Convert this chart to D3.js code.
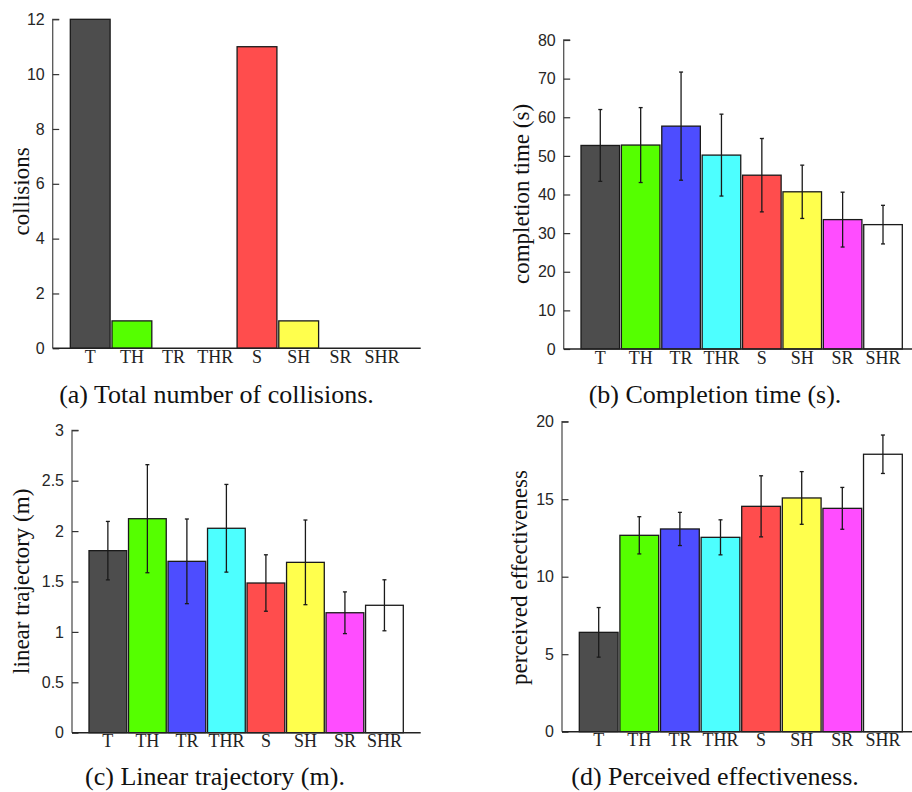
<!DOCTYPE html>
<html>
<head>
<meta charset="utf-8">
<script src="https://cdn.jsdelivr.net/npm/d3@7"></script>
<style>
  html, body { margin: 0; padding: 0; background: #fff; }
  svg { display: block; }
</style>
</head>
<body>
<svg id="fig" width="912" height="792"></svg>
<script>
// Conditions compared in every panel
const conditions = ["T", "TH", "TR", "THR", "S", "SH", "SR", "SHR"];
const barColors = ["#4d4d4d", "#55ff00", "#4d4dff", "#4dffff", "#ff4d4d", "#ffff4d", "#ff4dff", "#ffffff"];

// (a) total collisions
const collisions = [12, 1, 0, 0, 11, 1, 0, 0];
const collisionTicks = [0, 2, 4, 6, 8, 10, 12];

// (b) completion time (s): mean and error
const timeMean = [52.7, 52.8, 57.7, 50.2, 45.0, 40.7, 33.5, 32.2];
const timeErr  = [9.3, 9.7, 14.0, 10.6, 9.5, 6.9, 7.1, 5.0];
const timeTicks = [0, 10, 20, 30, 40, 50, 60, 70, 80];

// (c) linear trajectory (m): mean and error
const trajMean = [1.806, 2.123, 1.700, 2.028, 1.485, 1.690, 1.190, 1.264];
const trajErr  = [0.29, 0.536, 0.42, 0.435, 0.28, 0.42, 0.207, 0.253];
const trajTicks = [0, 0.5, 1, 1.5, 2, 2.5, 3];

// (d) perceived effectiveness: mean and error
const effMean = [6.41, 12.67, 13.08, 12.54, 14.54, 15.08, 14.41, 17.9];
const effErr  = [1.6, 1.2, 1.07, 1.13, 1.97, 1.7, 1.35, 1.24];
const effTicks = [0, 5, 10, 15, 20];

const svg = d3.select("#fig");
const serif = "'Liberation Serif', 'Times New Roman', serif";
const sans = "'Liberation Sans', Arial, Helvetica, sans-serif";

function panel(cfg) {
  const g = svg.append("g");
  const y = d3.scaleLinear().domain(cfg.domain).range([cfg.y0, cfg.yTop]);
  const x = d3.scaleBand().domain(conditions).range(cfg.band)
    .paddingInner(0.045).paddingOuter(0);

  // bars
  g.selectAll("rect.bar").data(cfg.values).join("rect")
    .attr("class", "bar")
    .attr("x", (d, i) => x(conditions[i]))
    .attr("width", x.bandwidth())
    .attr("y", d => y(d))
    .attr("height", d => y(0) - y(d))
    .attr("fill", (d, i) => barColors[i])
    .attr("stroke", "#1a1a1a")
    .attr("stroke-width", 1.3);

  // error bars
  if (cfg.errors) {
    const eb = g.selectAll("g.err").data(cfg.values).join("g").attr("class", "err")
      .attr("stroke", "#1a1a1a").attr("stroke-width", 1.3);
    const cx = i => x(conditions[i]) + x.bandwidth() / 2;
    eb.append("line")
      .attr("x1", (d, i) => cx(i)).attr("x2", (d, i) => cx(i))
      .attr("y1", (d, i) => y(d + cfg.errors[i]))
      .attr("y2", (d, i) => y(d - cfg.errors[i]));
    eb.append("line")
      .attr("x1", (d, i) => cx(i) - 2).attr("x2", (d, i) => cx(i) + 2)
      .attr("y1", (d, i) => y(d + cfg.errors[i])).attr("y2", (d, i) => y(d + cfg.errors[i]));
    eb.append("line")
      .attr("x1", (d, i) => cx(i) - 2).attr("x2", (d, i) => cx(i) + 2)
      .attr("y1", (d, i) => y(d - cfg.errors[i])).attr("y2", (d, i) => y(d - cfg.errors[i]));
  }

  // y axis with inward ticks
  const yAxis = d3.axisRight(y).tickValues(cfg.ticks).tickSize(6.5).tickFormat(d3.format("~g"));
  const ya = g.append("g").attr("transform", `translate(${cfg.axisX},0)`).call(yAxis);
  ya.select(".domain").attr("stroke", "#555").attr("stroke-width", 1.3)
    .attr("d", `M6.5,${cfg.yTop}H0V${cfg.y0}`);
  ya.selectAll(".tick line").attr("stroke", "#333").attr("stroke-width", 1.2);
  ya.selectAll(".tick text")
    .attr("x", -8).attr("text-anchor", "end")
    .attr("font-family", sans).attr("font-size", 16).attr("fill", "#262626");

  // x axis baseline and category labels
  const xAxis = d3.axisBottom(x).tickSize(0).tickPadding(0);
  const xa = g.append("g").attr("transform", `translate(0,${cfg.y0})`).call(xAxis);
  xa.select(".domain").attr("stroke", "#222").attr("stroke-width", 1.5)
    .attr("d", `M${cfg.axisX},0H${cfg.axisRight}`);
  xa.selectAll(".tick text")
    .attr("y", 14.5).attr("dy", 0)
    .attr("font-family", serif).attr("font-size", 18).attr("fill", "#222");

  // y axis title
  g.append("text")
    .attr("transform", `translate(${cfg.titleX},${cfg.titleY}) rotate(-90)`)
    .attr("text-anchor", "middle")
    .attr("font-family", serif).attr("font-size", 23).attr("fill", "#111")
    .text(cfg.title);

  // caption
  g.append("text")
    .attr("x", cfg.capX).attr("y", cfg.capY)
    .attr("text-anchor", "middle")
    .attr("font-family", serif).attr("font-size", 26).attr("fill", "#111")
    .text(cfg.caption);
}

panel({
  values: collisions, domain: [0, 12], ticks: collisionTicks,
  axisX: 52.7, axisRight: 420.7, y0: 348.3, yTop: 19.3, band: [70.3, 402],
  title: "collisions", titleX: 28.5, titleY: 191.5,
  caption: "(a) Total number of collisions.", capX: 216.5, capY: 403
});

panel({
  values: timeMean, errors: timeErr, domain: [0, 80], ticks: timeTicks,
  axisX: 563.7, axisRight: 912, y0: 349, yTop: 40, band: [581, 902.3],
  title: "completion time (s)", titleX: 528.5, titleY: 194,
  caption: "(b) Completion time (s).", capX: 715, capY: 403
});

panel({
  values: trajMean, errors: trajErr, domain: [0, 3], ticks: trajTicks,
  axisX: 72, axisRight: 420.7, y0: 732.7, yTop: 430.3, band: [89, 403.3],
  title: "linear trajectory (m)", titleX: 28.5, titleY: 581.3,
  caption: "(c) Linear trajectory (m).", capX: 215, capY: 785
});

panel({
  values: effMean, errors: effErr, domain: [0, 20], ticks: effTicks,
  axisX: 562, axisRight: 912, y0: 731.7, yTop: 421.7, band: [579.3, 902.3],
  title: "perceived effectiveness", titleX: 527, titleY: 577.5,
  caption: "(d) Perceived effectiveness.", capX: 715, capY: 785
});
</script>
</body>
</html>
